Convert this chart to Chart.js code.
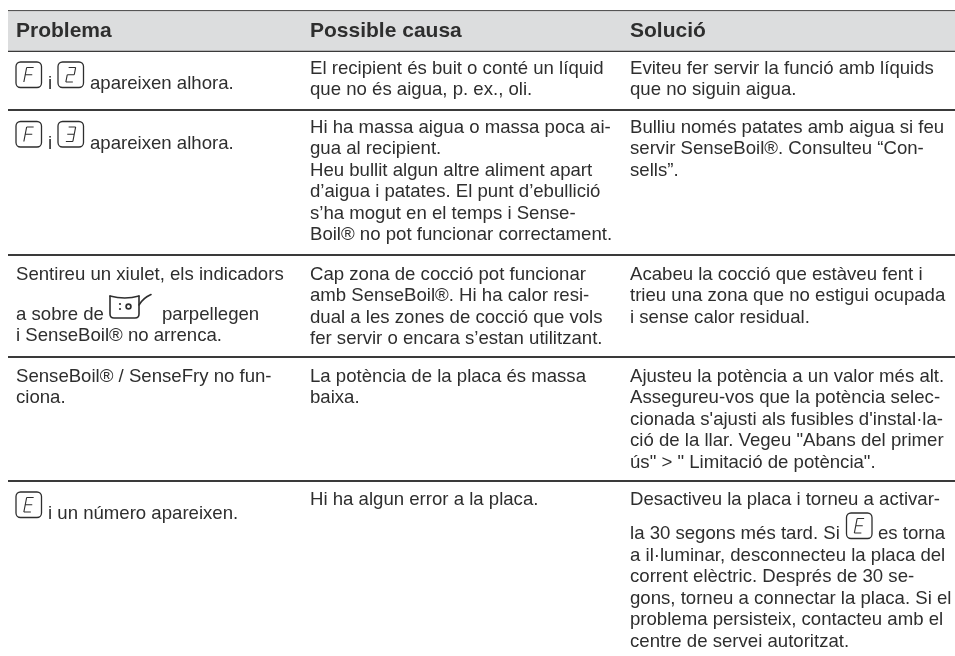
<!DOCTYPE html>
<html><head><meta charset="utf-8">
<style>html,body{margin:0;padding:0;background:#fff}canvas{display:block}</style>
<script src="https://cdn.jsdelivr.net/npm/chart.js@4"></script></head>
<body><canvas id="c" width="955" height="656"></canvas>
<script>
const headers = ["Problema","Possible causa","Solució"];
const problemaFila3 = ["Sentireu un xiulet, els indicadors","a sobre de","parpellegen","i SenseBoil® no arrenca."];
const problemaFila4 = ["SenseBoil® / SenseFry no fun-","ciona."];
const problemaIcones = ["apareixen alhora.","i","i un número apareixen."];
const causes = [
 ["El recipient és buit o conté un líquid","que no és aigua, p. ex., oli."],
 ["Hi ha massa aigua o massa poca ai-","gua al recipient.","Heu bullit algun altre aliment apart","d’aigua i patates. El punt d’ebullició","s’ha mogut en el temps i Sense-","Boil® no pot funcionar correctament."],
 ["Cap zona de cocció pot funcionar","amb SenseBoil®. Hi ha calor resi-","dual a les zones de cocció que vols","fer servir o encara s’estan utilitzant."],
 ["La potència de la placa és massa","baixa."],
 ["Hi ha algun error a la placa."]
];
const solucions = [
 ["Eviteu fer servir la funció amb líquids","que no siguin aigua."],
 ["Bulliu només patates amb aigua si feu","servir SenseBoil®. Consulteu “Con-","sells”."],
 ["Acabeu la cocció que estàveu fent i","trieu una zona que no estigui ocupada","i sense calor residual."],
 ["Ajusteu la potència a un valor més alt.","Assegureu-vos que la potència selec-","cionada s'ajusti als fusibles d'instal·la-","ció de la llar. Vegeu \"Abans del primer","ús\" > \" Limitació de potència\"."]
];
const solucio5 = ["Desactiveu la placa i torneu a activar-","la 30 segons més tard. Si","es torna","a il·luminar, desconnecteu la placa del","corrent elèctric. Després de 30 se-","gons, torneu a connectar la placa. Si el","problema persisteix, contacteu amb el","centre de servei autoritzat."];
const rowRules = [11,51,110,255,357,481];
const headerBand = [{x:[8,955],y:31}];

const COLX=[16,310,630], FIRST=[74,133,280,382,505], PITCH=21.45, INK='#2e2e2e';
const SEG={F:'afge',2:'abged',3:'abgcd',E:'afged'};
const FONT='"Liberation Sans", Arial, sans-serif';

function key(ctx,x,y,ch){
  const w=25.5,h=25.5;
  ctx.save();ctx.strokeStyle='#2e2e2e';ctx.lineWidth=1.3;
  ctx.beginPath();ctx.roundRect(x,y,w,h,4.5);ctx.stroke();
  const cx=x+w/2,cy=y+h/2,gw=7,gh=14.5,sl=1.4;
  const P=(u,v)=>[cx-gw/2+u*gw+(0.5-v)*2*sl,cy-gh/2+v*gh];
  const S={a:[[0,0],[1,0]],b:[[1,0],[1,.5]],c:[[1,.5],[1,1]],d:[[0,1],[1,1]],e:[[0,.5],[0,1]],f:[[0,0],[0,.5]],g:[[0,.5],[1,.5]]};
  ctx.lineWidth=1.15;ctx.beginPath();
  for(const s of SEG[ch]){const [p,q]=S[s];ctx.moveTo(...P(...p));ctx.lineTo(...P(...q));}
  ctx.stroke();ctx.restore();
}
function pot(ctx){
  ctx.save();ctx.strokeStyle='#2e2e2e';ctx.fillStyle='#2e2e2e';ctx.lineWidth=1.6;ctx.lineCap='round';
  ctx.beginPath();ctx.moveTo(110,296);ctx.lineTo(110,314);ctx.quadraticCurveTo(110,318,114,318);
  ctx.lineTo(135,318);ctx.quadraticCurveTo(139,318,139,314);ctx.lineTo(139,296);ctx.stroke();
  ctx.beginPath();ctx.moveTo(139,305);ctx.quadraticCurveTo(143,298,151,294.5);ctx.stroke();
  ctx.beginPath();ctx.moveTo(110,296);ctx.quadraticCurveTo(125,300,139,296);ctx.stroke();
  ctx.beginPath();ctx.arc(120,304,1.1,0,7);ctx.fill();ctx.beginPath();ctx.arc(120,309,1.1,0,7);ctx.fill();
  ctx.lineWidth=1.7;ctx.beginPath();ctx.arc(128.5,306.5,2.4,0,7);ctx.stroke();ctx.restore();
}
const tablePlugin={id:'tableText',afterDatasetsDraw(chart){
  const {ctx,scales:{x,y}}=chart;
  const T=(s,px,py)=>ctx.fillText(s,x.getPixelForValue(px),y.getPixelForValue(py));
  ctx.save();ctx.textBaseline='alphabetic';ctx.textAlign='left';ctx.fillStyle=INK;
  ctx.font='bold 21px '+FONT;
  headers.forEach((h,i)=>T(h,COLX[i],37));
  ctx.font='18.6px '+FONT;
  causes.forEach((c,r)=>c.forEach((s,i)=>T(s,COLX[1],FIRST[r]+i*PITCH)));
  solucions.forEach((c,r)=>c.forEach((s,i)=>T(s,COLX[2],FIRST[r]+i*PITCH)));
  T(problemaIcones[1],48,89);T(problemaIcones[0],90,89);
  T(problemaIcones[1],48,149);T(problemaIcones[0],90,149);
  T(problemaFila3[0],COLX[0],280);T(problemaFila3[1],COLX[0],320);T(problemaFila3[2],162,320);T(problemaFila3[3],COLX[0],341);
  problemaFila4.forEach((s,i)=>T(s,COLX[0],FIRST[3]+i*PITCH));
  T(problemaIcones[2],48,518.5);
  T(solucio5[0],COLX[2],505);T(solucio5[1],COLX[2],539);T(solucio5[2],878,539);
  solucio5.slice(3).forEach((s,i)=>T(s,COLX[2],560.5+i*21.5));
  ctx.restore();
  key(ctx,16,62,'F');key(ctx,58,62,2);key(ctx,16,121.5,'F');key(ctx,58,121.5,3);
  key(ctx,16,492,'E');key(ctx,846.5,513,'E');pot(ctx);
}};
new Chart(document.getElementById('c'),{
  type:'bar',
  data:{datasets:[{data:headerBand,backgroundColor:'#dcddde',barThickness:39,borderWidth:0}]},
  options:{indexAxis:'y',responsive:false,animation:false,
    layout:{padding:{left:8,right:0,top:0,bottom:0}},
    plugins:{legend:{display:false},tooltip:{enabled:false}},
    scales:{
      x:{type:'linear',min:8,max:955,display:false},
      y:{type:'linear',min:0,max:656,reverse:true,offset:false,
         afterBuildTicks(s){s.ticks=rowRules.map(v=>({value:v}));},
         border:{display:false},ticks:{display:false},
         grid:{offset:false,drawTicks:false,lineWidth:c=>c.index===0?1.6:2,color:c=>c.index===0?'#555':'#3a3a3a'}}
    }},
  plugins:[tablePlugin]
});
</script></body></html>
